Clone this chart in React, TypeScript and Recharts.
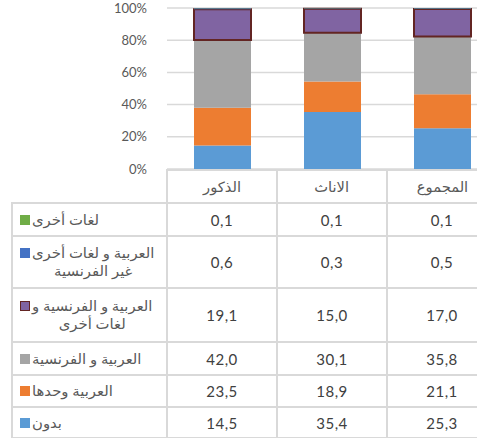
import React from 'react';
import { BarChart, Bar, XAxis, YAxis, CartesianGrid } from 'recharts';

const categories = ['الذكور', 'الاناث', 'المجموع'];
const noneVals = [14.5, 35.4, 25.3];
const arabicOnlyVals = [23.5, 18.9, 21.1];
const arabicFrenchVals = [42.0, 30.1, 35.8];
const arabicFrenchOtherVals = [19.1, 15.0, 17.0];
const arabicOtherVals = [0.6, 0.3, 0.5];
const otherVals = [0.1, 0.1, 0.1];
const yTicks = [0, 0.2, 0.4, 0.6, 0.8, 1];

// series from bottom of stack to top
const series = [
  { key: 'none', lines: ['بدون'], values: noneVals, color: '#5B9BD5', stroke: 'none' },
  { key: 'arabicOnly', lines: ['العربية وحدها'], values: arabicOnlyVals, color: '#ED7D31', stroke: 'none' },
  { key: 'arabicFrench', lines: ['العربية و الفرنسية'], values: arabicFrenchVals, color: '#A5A5A5', stroke: 'none' },
  { key: 'arabicFrenchOther', lines: ['العربية و الفرنسية و', 'لغات أخرى'], values: arabicFrenchOtherVals, color: '#8064A2', stroke: '#632523' },
  { key: 'arabicOther', lines: ['العربية و لغات أخرى', 'غير الفرنسية'], values: arabicOtherVals, color: '#4472C4', stroke: 'none' },
  { key: 'other', lines: ['لغات أخرى'], values: otherVals, color: '#70AD47', stroke: 'none' },
];

const data = categories.map((name, i) => {
  const row: any = { name };
  series.forEach((s) => { row[s.key] = s.values[i]; });
  return row;
});

const FONT = "Lato, 'DejaVu Sans', sans-serif";
const BORDER = '#D9D9D9';
const TEXT = '#595959';

const fmt = (v: number) => v.toFixed(1).replace('.', ',');

const CHART_W = 500;
const LEFT_COL_X = 12;
const PLOT_X = 167;
const COL_W = 110;
const TABLE_TOP = 170;
const HEADER_H = 33;
const LINE_ROW_H = [33, 52, 54, 33, 32, 31];

export default function App() {
  const tableRows = [...series].reverse();
  let y = TABLE_TOP + HEADER_H;
  const rowPos = tableRows.map((s, i) => {
    const top = y;
    y += LINE_ROW_H[i];
    return { s, top, h: LINE_ROW_H[i] };
  });
  const tableBottom = y;
  const rightEdge = PLOT_X + COL_W * categories.length;

  return (
    <div style={{ position: 'absolute', left: 0, top: 0, width: 477, height: 438, overflow: 'hidden', background: '#fff', fontFamily: FONT }}>
      <div style={{ position: 'absolute', left: 0, top: 0 }}>
        <BarChart
          width={CHART_W}
          height={180}
          data={data}
          stackOffset="expand"
          margin={{ top: 8, right: CHART_W - rightEdge, bottom: 11, left: 1 }}
          barSize={57}
        >
          <CartesianGrid vertical={false} stroke={BORDER} strokeWidth={1.5} />
          <XAxis dataKey="name" hide />
          <YAxis
            width={166}
            domain={[0, 1]}
            ticks={yTicks}
            axisLine={false}
            tickLine={false}
            tickSize={0}
            tickMargin={20}
            tickFormatter={(v: number) => `${Math.round(v * 100)}%`}
            tick={{ fill: TEXT, fontSize: 13, fontFamily: FONT }}
          />
          {series.map((s) => (
            <Bar
              key={s.key}
              dataKey={s.key}
              stackId="a"
              fill={s.color}
              stroke={s.stroke}
              strokeWidth={s.stroke === 'none' ? 0 : 2}
              isAnimationActive={false}
            />
          ))}
        </BarChart>
      </div>

      {/* header row */}
      <div style={{ position: 'absolute', left: PLOT_X - 1, top: TABLE_TOP - 1, width: rightEdge - PLOT_X + 2, height: 2, background: BORDER }} />
      {categories.map((c, i) => (
        <div
          key={c}
          style={{
            position: 'absolute', left: PLOT_X + i * COL_W, top: TABLE_TOP, width: COL_W, height: HEADER_H,
            display: 'flex', alignItems: 'center', justifyContent: 'center',
            fontSize: 14, color: TEXT, direction: 'rtl',
          }}
        >
          <span style={{ display: 'inline-block', transform: 'scaleX(1.05)' }}>{c}</span>
        </div>
      ))}

      {/* horizontal row lines */}
      {rowPos.map(({ top }, i) => (
        <div key={'h' + i} style={{ position: 'absolute', left: LEFT_COL_X - 1, top: top - 1, width: rightEdge - LEFT_COL_X + 2, height: 2, background: BORDER }} />
      ))}
      <div style={{ position: 'absolute', left: LEFT_COL_X - 1, top: tableBottom - 1, width: rightEdge - LEFT_COL_X + 2, height: 2, background: BORDER }} />

      {/* vertical lines */}
      <div style={{ position: 'absolute', left: LEFT_COL_X - 1, top: TABLE_TOP + HEADER_H - 1, width: 2, height: tableBottom - TABLE_TOP - HEADER_H + 2, background: BORDER }} />
      {categories.map((c, i) => (
        <div key={'v' + i} style={{ position: 'absolute', left: PLOT_X + i * COL_W - 1, top: TABLE_TOP, width: 2, height: tableBottom - TABLE_TOP, background: BORDER }} />
      ))}
      <div style={{ position: 'absolute', left: rightEdge - 1, top: TABLE_TOP, width: 2, height: tableBottom - TABLE_TOP, background: BORDER }} />

      {/* rows */}
      {rowPos.map(({ s, top, h }) => (
        <React.Fragment key={s.key}>
          <div
            style={{
              position: 'absolute', left: LEFT_COL_X + 8, top, height: h,
              display: 'flex', alignItems: 'center',
            }}
          >
            <div style={{ display: 'flex', alignItems: 'flex-start' }}>
              <div
                style={{
                  width: s.stroke === 'none' ? 10 : 8, height: s.stroke === 'none' ? 10 : 8,
                  background: s.color,
                  border: s.stroke === 'none' ? 'none' : `1.5px solid ${s.stroke}`,
                  marginTop: 4, marginRight: 2,
                }}
              />
              <div
                style={{
                  direction: 'rtl', textAlign: 'center', fontSize: 14, lineHeight: '18px',
                  color: TEXT, whiteSpace: 'nowrap', transform: 'scaleX(1.06)', transformOrigin: 'left center',
                }}
              >
                {s.lines.map((l, j) => (<div key={j}>{l}</div>))}
              </div>
            </div>
          </div>
          {s.values.map((v, i) => (
            <div
              key={i}
              style={{
                position: 'absolute', left: PLOT_X + i * COL_W, top, width: COL_W, height: h,
                display: 'flex', alignItems: 'center', justifyContent: 'center',
                fontSize: 15, letterSpacing: '0.5px', color: '#404040',
              }}
            >
              {fmt(v)}
            </div>
          ))}
        </React.Fragment>
      ))}
    </div>
  );
}
